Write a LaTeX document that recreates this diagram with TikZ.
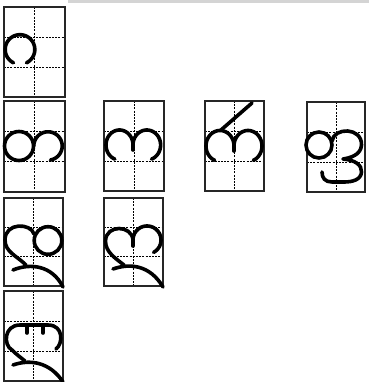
\documentclass[tikz,border=0pt]{standalone}
\begin{document}
\begin{tikzpicture}[x=1pt,y=-1pt,
  cellbox/.style={draw=black!85,line width=1.1pt},
  gridline/.style={line width=0.9pt,dash pattern=on 2pt off 1.2pt},
  ink/.style={line width=3.6pt,line cap=round,line join=round},
  topbar/.style={fill=black!17,draw=none}]
\useasboundingbox (0,0) rectangle (369,382);
\fill[topbar] (68,0) rectangle (369,3);
\newcommand\gridcell[4]{%
  \draw[gridline] ({(#1+#3)/2},#2) -- ({(#1+#3)/2},#4);
  \draw[gridline] (#1,{#2+(#4-#2)/3}) -- (#3,{#2+(#4-#2)/3});
  \draw[gridline] (#1,{#2+2*(#4-#2)/3}) -- (#3,{#2+2*(#4-#2)/3});
  \draw[cellbox] (#1,#2) rectangle (#3,#4);}
% ellipse arc helper: centre x, centre y, rx, ry, from, to
\newcommand\earc[6]{plot[domain=#5:#6,samples=60,smooth] ({#1+#3*cos(\x)},{#2+#4*sin(\x)})}
% cells
\gridcell{4}{7}{65}{97}
\gridcell{4}{101}{65}{192}
\gridcell{104}{101}{164}{191}
\gridcell{205}{101}{264}{191}
\gridcell{307}{102}{365}{192}
\gridcell{4}{198}{63}{286}
\gridcell{104}{198}{163}{286}
\gridcell{4}{291}{63}{381}
% glyph 1 (gap at bottom)
\draw[ink] \earc{20}{49.5}{14.8}{14.8}{116}{424};
% glyph 2a
\draw[ink] (19,146) circle[radius=14.5];
\draw[ink] \earc{48}{146}{14.2}{14.2}{180}{440};
% glyph 2b
\draw[ink] \earc{119.5}{145}{13.5}{15}{110}{360};
\draw[ink] (133,145) -- (133,150);
\draw[ink] \earc{146.8}{145}{13.8}{15}{180}{430};
% glyph 2c
\draw[ink] \earc{220}{146}{14}{15.5}{112}{360};
\draw[ink] (234,146) -- (234,151);
\draw[ink] \earc{248}{146}{14}{15.5}{180}{428};
\draw[ink] (221,130) -- (252,103);
% glyph 2d
\draw[ink] (319,145) circle[radius=13];
\draw[ink] (332,141) .. controls (334,127) and (362,127) .. (361.5,145)
  .. controls (361,155) and (350,158) .. (343,159)
  .. controls (355,160) and (362,165) .. (361.5,172)
  .. controls (361,180) and (352,182) .. (344,182) -- (332,182)
  .. controls (325,182) and (322,178) .. (322,172);
% glyph 3a
\draw[ink] (48,240.5) circle[radius=13.8];
\draw[ink] (34,234) .. controls (31,223) and (5,222) .. (5,240)
  .. controls (5,252) and (17,256) .. (26,265);
\draw[ink] (13,270) .. controls (30,263) and (52,265) .. (63,287);
% glyph 3b
\draw[ink] (133,240) .. controls (132,225) and (106,224) .. (105.5,241)
  .. controls (105.5,252) and (115,258) .. (124,265);
\draw[ink] (133,246) -- (133,240);
\draw[ink] \earc{147}{240}{14}{14}{180}{422};
\draw[ink] (113,269) .. controls (130,263) and (150,265) .. (163,287);
% glyph 4
\draw[ink] (56,349) .. controls (63,344) and (64,325) .. (48,325) -- (20,325)
  .. controls (4,325) and (3,345) .. (12,350) .. controls (16,354) and (20,357) .. (25,361);
\draw[ink] (27,325) -- (27,333);
\draw[ink] (43,325) -- (43,333);
\draw[ink] (13,365) .. controls (30,359) and (50,362) .. (63,382);
\end{tikzpicture}
\end{document}
